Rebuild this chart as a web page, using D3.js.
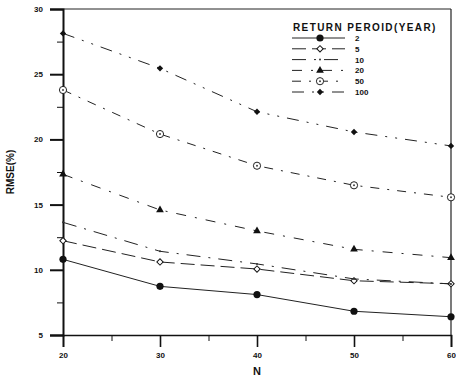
<!DOCTYPE html>
<html><head><meta charset="utf-8">
<script src="https://cdn.jsdelivr.net/npm/d3@7"></script>
<style>body{margin:0;background:#fff}svg{display:block}text{font-family:"Liberation Sans",Arial,sans-serif;fill:#111}</style>
</head><body><svg id="c" width="456" height="379"></svg>
<script>
const N = [20, 30, 40, 50, 60];
const seriesNames = ["2", "5", "10", "20", "50", "100"];
const rp2   = [10.8, 8.73, 8.1, 6.82, 6.4];
const rp5   = [12.23, 10.6, 10.06, 9.16, 8.93];
const rp10  = [13.64, 11.42, 10.45, 9.3, 8.92];
const rp20  = [17.32, 14.59, 12.98, 11.57, 10.93];
const rp50  = [23.79, 20.41, 17.98, 16.48, 15.56];
const rp100 = [28.13, 25.45, 22.12, 20.57, 19.5];
const yTicks = [5, 10, 15, 20, 25, 30];
const xTicks = [20, 30, 40, 50, 60];

const series = [
  {name: seriesNames[0], vals: rp2,   dash: null,          marker: "fcircle"},
  {name: seriesNames[1], vals: rp5,   dash: "14,6",        marker: "odiamond"},
  {name: seriesNames[2], vals: rp10,  dash: "14,8,2,8",    marker: "dot"},
  {name: seriesNames[3], vals: rp20,  dash: "10,9,2,9",    marker: "ftriangle"},
  {name: seriesNames[4], vals: rp50,  dash: "9,8,2,8",     marker: "ocircle"},
  {name: seriesNames[5], vals: rp100, dash: "12,8,2,8,2,8",marker: "fdiamond"}
];

const svg = d3.select("#c");
const x = d3.scaleLinear().domain([20, 60]).range([63, 451]);
const y = d3.scaleLinear().domain([5, 30]).range([335, 9]);

// frame
svg.append("line").attr("x1", 63).attr("x2", 451).attr("y1", 9).attr("y2", 9).attr("stroke", "#222").attr("stroke-width", 1);
svg.append("line").attr("x1", 451).attr("x2", 451).attr("y1", 9).attr("y2", 335).attr("stroke", "#222").attr("stroke-width", 1.2);

// axes
const yAxis = d3.axisLeft(y).tickValues(yTicks).tickSize(13).tickPadding(7).tickFormat(d3.format("d"));
const gy = svg.append("g").attr("transform", "translate(63,0)").call(yAxis);
gy.select(".domain").attr("stroke-width", 2).attr("stroke", "#111");
gy.selectAll(".tick line").attr("stroke-width", 2).attr("stroke", "#111");
gy.selectAll("text").style("font-size", "8px").style("font-weight", "bold");
const gym = svg.append("g").attr("transform", "translate(63,0)")
  .call(d3.axisLeft(y).tickValues([7.5, 12.5, 17.5, 22.5, 27.5]).tickSize(6).tickFormat(""));
gym.select(".domain").remove();
gym.selectAll(".tick line").attr("stroke", "#111").attr("stroke-width", 1);

const xAxis = d3.axisBottom(x).tickValues(xTicks).tickSize(12).tickPadding(5).tickFormat(d3.format("d"));
const gx = svg.append("g").attr("transform", "translate(0,335)").call(xAxis);
gx.select(".domain").attr("stroke-width", 1.6).attr("stroke", "#111");
gx.selectAll(".tick line").attr("stroke-width", 1.6).attr("stroke", "#111");
gx.selectAll("text").style("font-size", "8px").style("font-weight", "bold");
const gxm = svg.append("g").attr("transform", "translate(0,335)")
  .call(d3.axisBottom(x).tickValues([25, 35, 45, 55]).tickSize(6).tickFormat(""));
gxm.select(".domain").remove();
gxm.selectAll(".tick line").attr("stroke", "#111").attr("stroke-width", 1);

// axis titles
svg.append("text").attr("x", 257).attr("y", 375).attr("text-anchor", "middle")
  .style("font-size", "11px").style("font-weight", "bold").text("N");
svg.append("text").attr("transform", "translate(14,172) rotate(-90)").attr("text-anchor", "middle")
  .style("font-size", "10px").style("font-weight", "bold").text("RMSE(%)");

const diamond = d3.symbol(d3.symbolSquare, 20)();
function drawMarker(g, type, cx, cy) {
  if (type === "fcircle") g.append("circle").attr("cx", cx).attr("cy", cy).attr("r", 3.6).attr("fill", "#111");
  else if (type === "odiamond") g.append("path").attr("d", diamond).attr("transform", `translate(${cx},${cy}) rotate(45)`).attr("fill", "#fff").attr("stroke", "#111").attr("stroke-width", 1);
  else if (type === "dot") g.append("circle").attr("cx", cx).attr("cy", cy).attr("r", 1).attr("fill", "#333");
  else if (type === "ftriangle") g.append("path").attr("d", d3.symbol(d3.symbolTriangle, 26)()).attr("transform", `translate(${cx},${cy})`).attr("fill", "#111");
  else if (type === "ocircle") { g.append("circle").attr("cx", cx).attr("cy", cy).attr("r", 3.6).attr("fill", "#fff").attr("stroke", "#222").attr("stroke-width", 1);
    g.append("circle").attr("cx", cx).attr("cy", cy).attr("r", 1).attr("fill", "#444"); }
  else if (type === "fdiamond") g.append("path").attr("d", diamond).attr("transform", `translate(${cx},${cy}) rotate(45)`).attr("fill", "#111");
}

const line = d3.line().x((d, i) => x(N[i])).y(d => y(d)).curve(d3.curveLinear);
series.forEach(s => {
  const g = svg.append("g");
  g.append("path").attr("d", line(s.vals)).attr("fill", "none").attr("stroke", "#222")
    .attr("stroke-width", 1).attr("stroke-dasharray", s.dash);
  s.vals.forEach((v, i) => drawMarker(g, s.marker, x(N[i]), y(v)));
});

// legend
svg.append("text").attr("x", 293).attr("y", 31).style("font-size", "10px").style("font-weight", "bold")
  .style("letter-spacing", "1.4px").text("RETURN PEROID(YEAR)");
series.forEach((s, i) => {
  const ly = 38 + i * 10.8;
  const g = svg.append("g");
  g.append("line").attr("x1", 292).attr("x2", 345).attr("y1", ly).attr("y2", ly).attr("stroke", "#222")
    .attr("stroke-width", 1).attr("stroke-dasharray", s.dash);
  drawMarker(g, s.marker, 320, ly);
  g.append("text").attr("x", 355).attr("y", ly + 3).style("font-size", "8px").style("font-weight", "bold").text(s.name);
});
</script></body></html>
